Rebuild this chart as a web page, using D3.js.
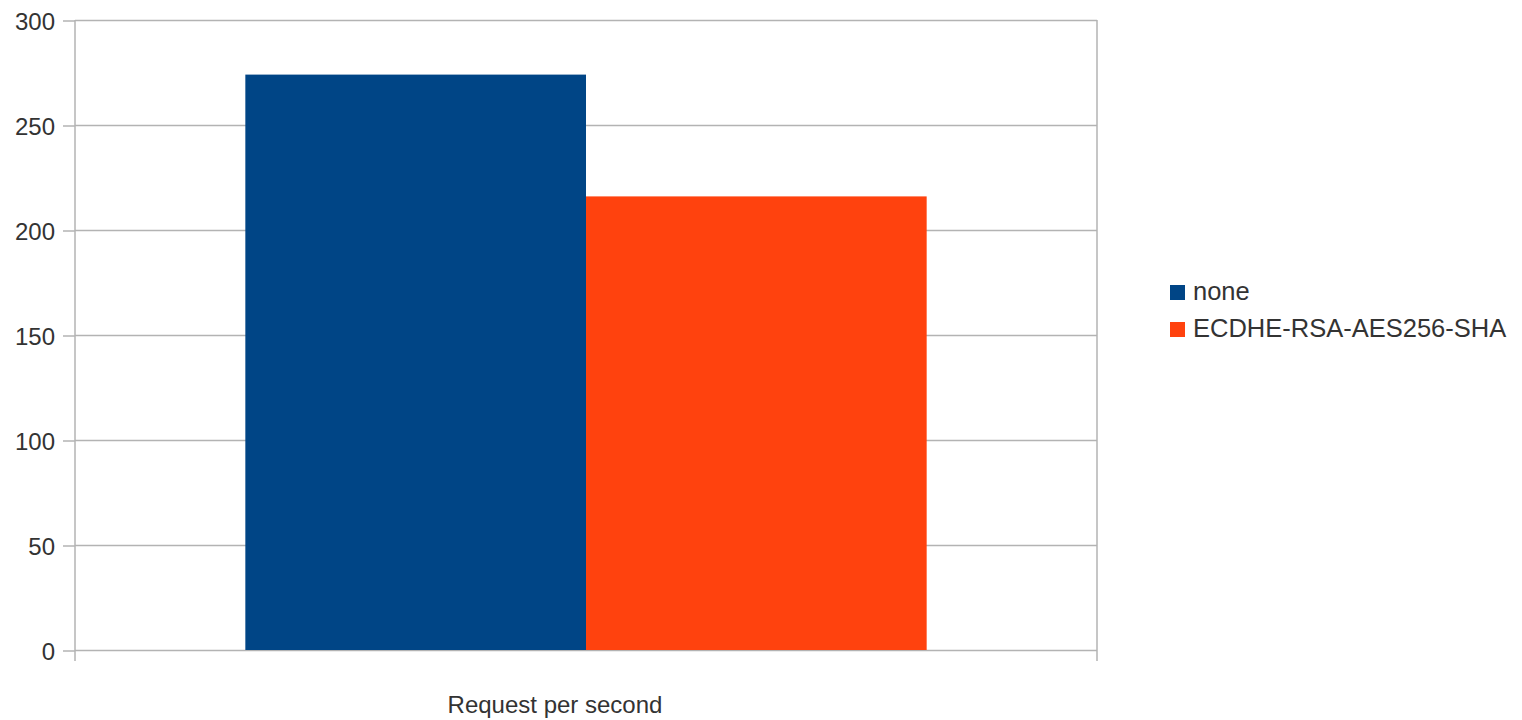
<!DOCTYPE html>
<html>
<head>
<meta charset="utf-8">
<script src="https://cdn.jsdelivr.net/npm/d3@7"></script>
<style>
  html, body { margin: 0; padding: 0; background: #fff; }
  svg { display: block; font-family: "Liberation Sans", Arial, sans-serif; }
</style>
</head>
<body>
<svg id="chart" width="1522" height="720"></svg>
<script>
const categories = ["Request per second"];
const seriesNames = ["none", "ECDHE-RSA-AES256-SHA"];
const seriesValues = [[274], [216]];
const seriesColors = ["#004586", "#ff420e"];
const yTicks = [0, 50, 100, 150, 200, 250, 300];

const svg = d3.select("#chart");
const plot = { left: 75, right: 1097, top: 20, bottom: 650 };

const x = d3.scaleBand().domain(categories).range([plot.left, plot.right]).paddingInner(0).paddingOuter(0);
const inner = d3.scaleBand().domain(seriesNames).range([0, x.bandwidth()]).paddingInner(0).paddingOuter(0.5);
const y = d3.scaleLinear().domain([0, 300]).range([plot.bottom, plot.top]);

const gridColor = "#b3b3b3";
const textColor = "#333333";

// gridlines
svg.append("g").selectAll("line").data(yTicks).join("line")
  .attr("x1", plot.left).attr("x2", plot.right)
  .attr("y1", d => y(d) + 0.5).attr("y2", d => y(d) + 0.5)
  .attr("stroke", gridColor).attr("stroke-width", 1.5);

// bars
const rows = [];
seriesNames.forEach((s, i) => categories.forEach((c, j) => rows.push({ s, c, v: seriesValues[i][j], color: seriesColors[i] })));
svg.append("g").selectAll("rect").data(rows).join("rect")
  .attr("x", d => x(d.c) + inner(d.s))
  .attr("width", inner.bandwidth())
  .attr("y", d => y(d.v))
  .attr("height", d => y(0) - y(d.v))
  .attr("fill", d => d.color);

// y axis
const yAxis = d3.axisLeft(y).tickValues(yTicks).tickSize(12).tickPadding(8).tickFormat(d3.format("d"));
const ga = svg.append("g").attr("transform", `translate(${plot.left},0.5)`).call(yAxis);
ga.select(".domain").remove();
ga.selectAll(".tick line").attr("stroke", gridColor).attr("stroke-width", 1.5);
ga.selectAll(".tick text").attr("fill", textColor).attr("font-size", 24)
  .attr("font-family", "Liberation Sans, Arial, sans-serif").attr("dy", "0.36em");

// left & right vertical lines (extending below the baseline)
svg.append("g").selectAll("line").data([plot.left, plot.right]).join("line")
  .attr("x1", d => d).attr("x2", d => d)
  .attr("y1", plot.top).attr("y2", plot.bottom + 11)
  .attr("stroke", gridColor).attr("stroke-width", 1.5);

// category label
svg.append("g").selectAll("text").data(categories).join("text")
  .attr("x", d => x(d) + x.bandwidth() / 2 - 31)
  .attr("y", 713)
  .attr("text-anchor", "middle")
  .attr("fill", textColor).attr("font-size", 24)
  .text(d => d);

// legend
const lg = svg.append("g").attr("transform", "translate(1170,285)");
const items = lg.selectAll("g").data(seriesNames).join("g")
  .attr("transform", (d, i) => `translate(0,${i * 37})`);
items.append("rect").attr("width", 15).attr("height", 15)
  .attr("fill", (d, i) => seriesColors[i]);
items.append("text").attr("x", 23).attr("y", 15)
  .attr("fill", textColor).attr("font-size", 25.5)
  .text(d => d);
</script>
</body>
</html>
